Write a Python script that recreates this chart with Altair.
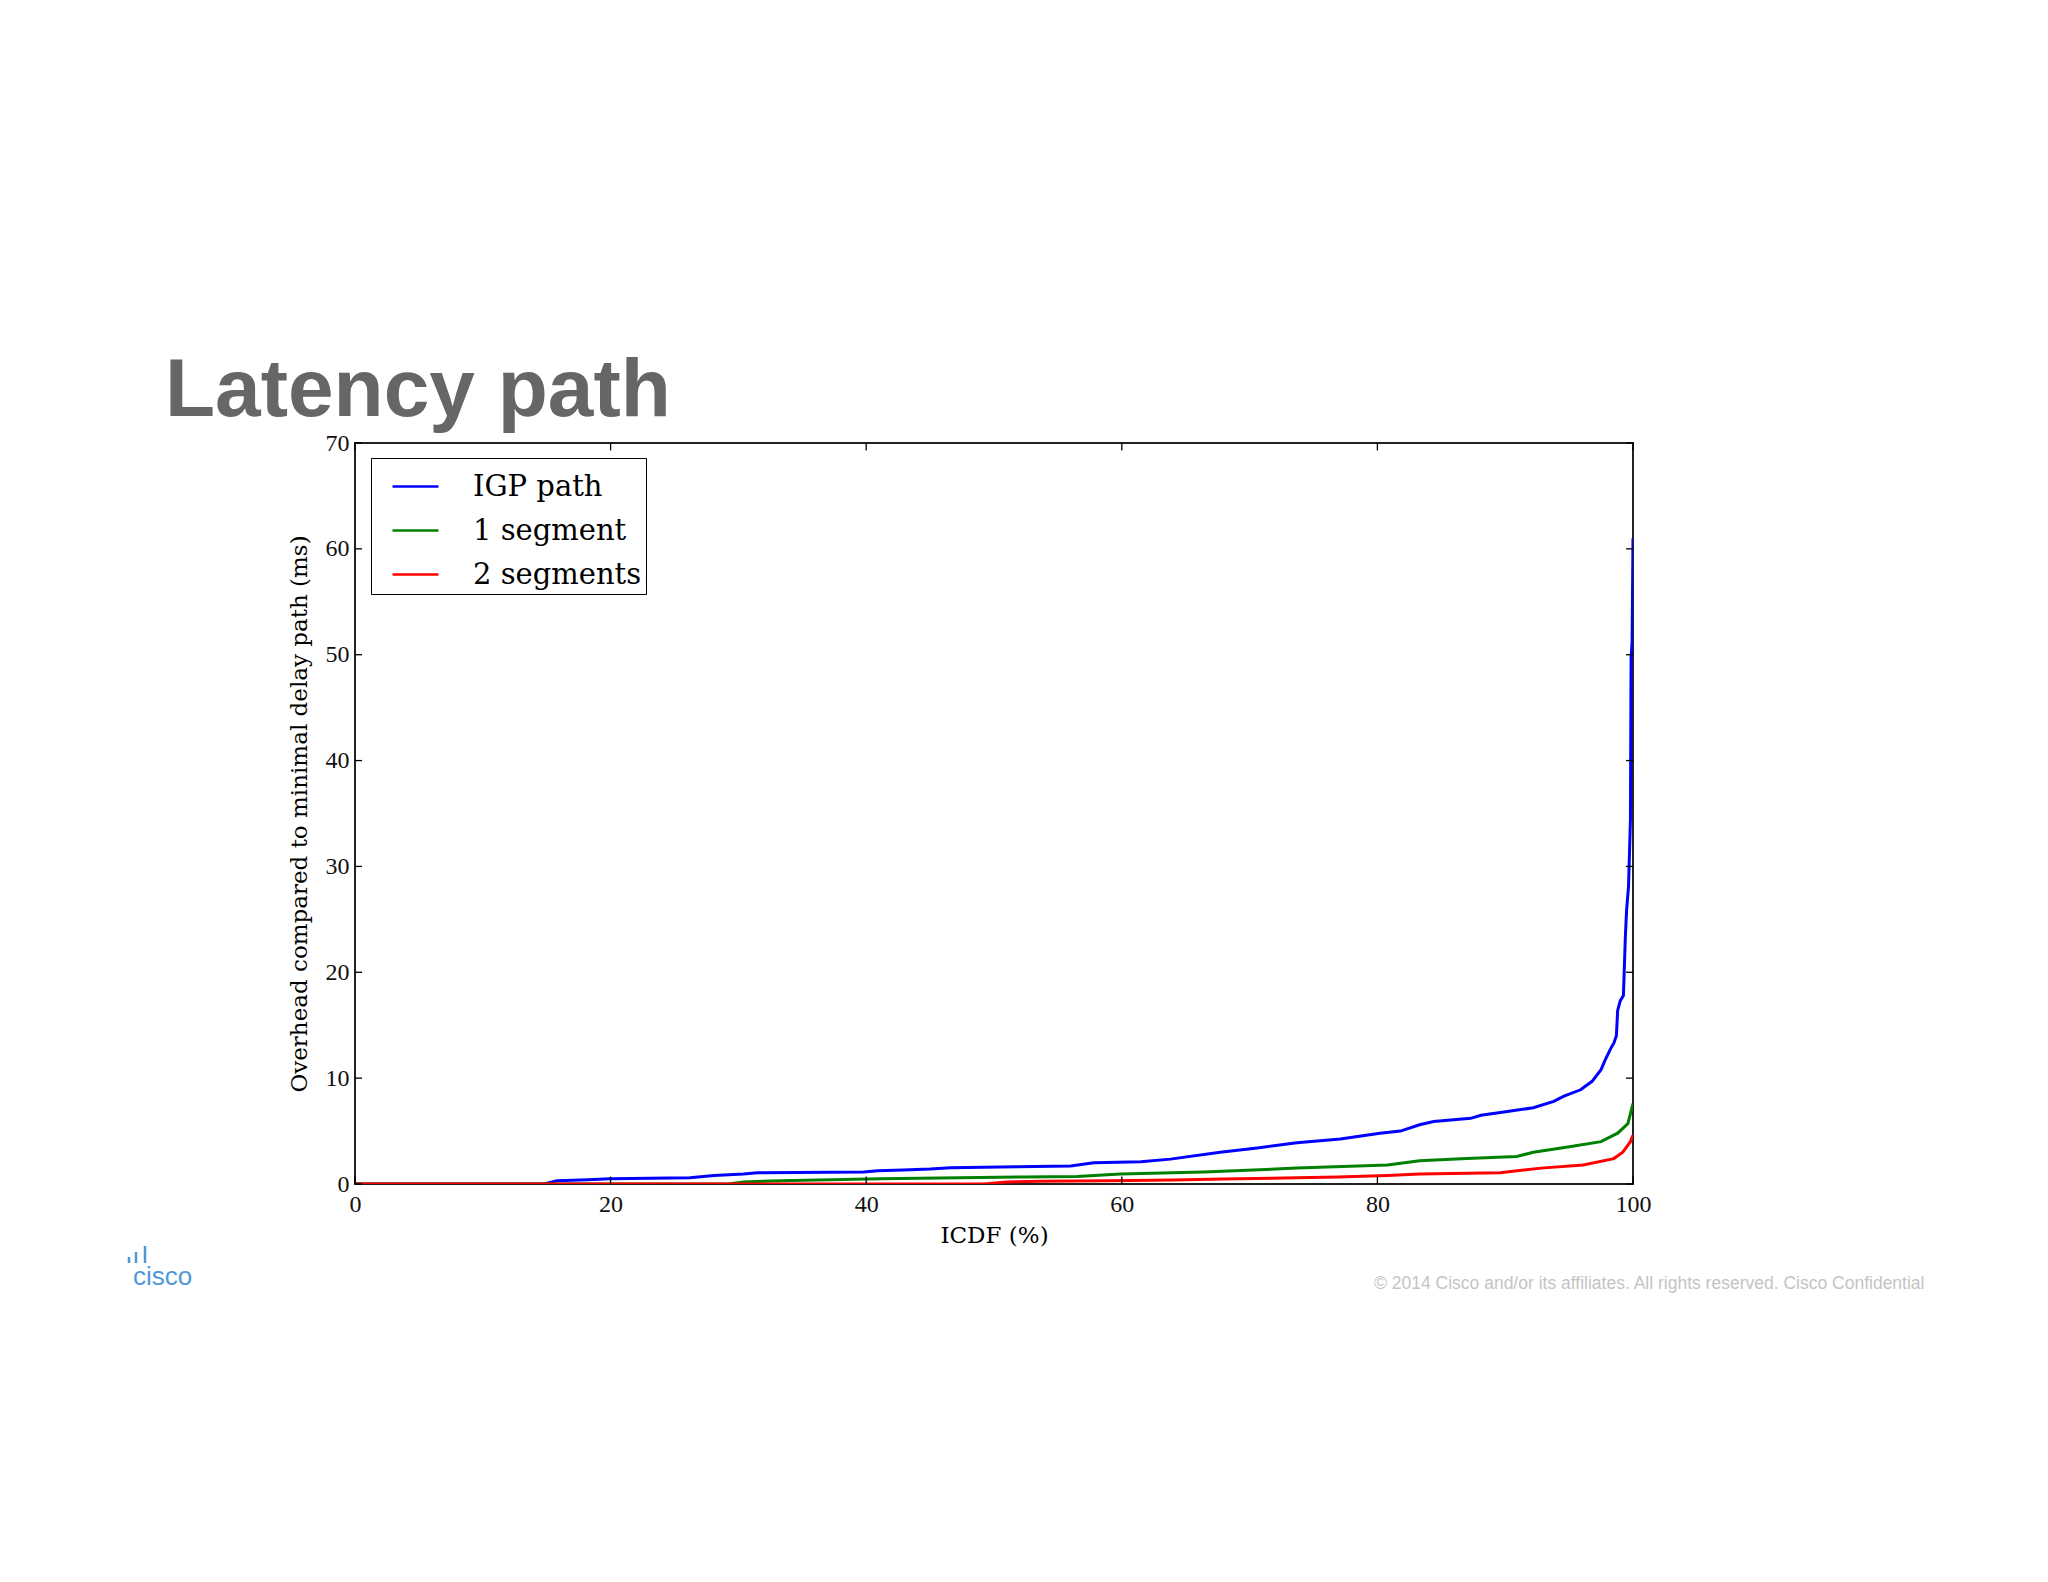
import altair as alt
import pandas as pd

# ---- data ----
series_names = ["IGP path", "1 segment", "2 segments"]
series_colors = ["#0000ff", "#008000", "#ff0000"]

igp_x = [0, 14.8, 15.8, 18.2, 20.0, 26.2, 28.1, 30.4, 31.5, 39.8, 40.9, 42.9, 45.0, 46.6, 51.8,
         56.0, 57.8, 61.5, 63.8, 67.7, 70.6, 73.7, 77.1, 80.2, 81.8, 83.3, 84.4, 87.3, 88.1, 89.9,
         92.2, 93.8, 94.6, 95.9, 96.8, 97.5, 97.8, 98.3, 98.5, 98.7, 98.8, 99.0, 99.25, 99.4, 99.5,
         99.65, 99.8, 99.85, 99.93, 100]
igp_y = [0, 0, 0.3, 0.4, 0.5, 0.6, 0.8, 0.95, 1.07, 1.13, 1.26, 1.32, 1.42, 1.54, 1.64,
         1.7, 2.0, 2.1, 2.35, 3.0, 3.4, 3.9, 4.25, 4.8, 5.0, 5.6, 5.9, 6.2, 6.5, 6.8,
         7.2, 7.8, 8.3, 8.9, 9.7, 10.8, 11.65, 12.9, 13.3, 14.0, 16.4, 17.3, 17.8, 23.3, 25.9,
         28.1, 34.4, 49.7, 51.2, 61.0]

seg1_x = [0, 29.2, 30.4, 33.3, 37.2, 41.1, 52.3, 56.5, 59.9, 66.4, 73.7, 80.8, 83.3, 87.0,
          90.9, 92.2, 94.9, 97.5, 98.8, 99.6, 100]
seg1_y = [0, 0, 0.2, 0.3, 0.4, 0.5, 0.66, 0.7, 0.94, 1.13, 1.5, 1.8, 2.2, 2.4,
          2.6, 3.0, 3.5, 4.0, 4.8, 5.7, 7.6]

seg2_x = [0, 49.2, 51.0, 53.6, 59.1, 64.0, 67.9, 76.9, 80.8, 83.3, 89.6, 92.8, 96.1, 98.5,
          99.2, 99.8, 100]
seg2_y = [0, 0, 0.2, 0.25, 0.3, 0.38, 0.47, 0.66, 0.8, 0.95, 1.07, 1.5, 1.8, 2.4,
          3.0, 4.0, 4.6]

x_ticks = [0, 20, 40, 60, 80, 100]
y_ticks = [0, 10, 20, 30, 40, 50, 60, 70]

title_text = "Latency path"
x_title = "ICDF (%)"
y_title = "Overhead compared to minimal delay path (ms)"
footer_text = "\u00a9 2014  Cisco and/or its affiliates. All rights reserved.   Cisco Confidential"
logo_text = "cisco"

# ---- build tables ----
rows = []
for name, xs, ys in zip(series_names, [igp_x, seg1_x, seg2_x], [igp_y, seg1_y, seg2_y]):
    for i, (a, b) in enumerate(zip(xs, ys)):
        rows.append({"series": name, "pct": a, "ms": b, "i": i})
df = pd.DataFrame(rows)

xs_scale = alt.Scale(domain=[0, 100], nice=False, zero=False)
ys_scale = alt.Scale(domain=[0, 70], nice=False, zero=False)

x_axis = alt.Axis(title=x_title, values=x_ticks, grid=False, domain=False, ticks=False,
                  labelFlush=False, labelOverlap=False,
                  labelFont="Liberation Serif", labelFontSize=24, labelPadding=8,
                  titleFont="DejaVu Serif", titleFontSize=23, titleFontWeight="normal",
                  titlePadding=8, labelColor="#111111", titleColor="#000000")
y_axis = alt.Axis(title=y_title, values=y_ticks, grid=False, domain=False, ticks=False,
                  labelFlush=False, labelOverlap=False,
                  labelFont="Liberation Serif", labelFontSize=24, labelPadding=6,
                  titleFont="DejaVu Serif", titleFontSize=23, titleFontWeight="normal",
                  titlePadding=14, labelColor="#111111", titleColor="#000000")

lines = alt.Chart(df).mark_line(strokeWidth=3, clip=True).encode(
    x=alt.X("pct:Q", scale=xs_scale, axis=x_axis),
    y=alt.Y("ms:Q", scale=ys_scale, axis=y_axis),
    color=alt.Color("series:N",
                    scale=alt.Scale(domain=series_names, range=series_colors),
                    title=None,
                    legend=alt.Legend(orient="none", legendX=16, legendY=15,
                                      symbolType="stroke", symbolSize=2116, symbolStrokeWidth=2.5,
                                      labelFont="DejaVu Serif", labelFontSize=29, labelColor="#000000",
                                      labelLimit=1000, labelOffset=33, symbolOffset=16, rowPadding=4,
                                      padding=4, strokeColor="#000000", fillColor="#ffffff",
                                      cornerRadius=0)),
    order="i:Q",
)

xt_df = pd.DataFrame({"pct": x_ticks})
yt_df = pd.DataFrame({"ms": y_ticks})
tick_style = dict(color="#000000", strokeWidth=1.3)

xt_bottom = alt.Chart(xt_df).mark_rule(**tick_style).encode(
    x=alt.X("pct:Q", scale=xs_scale, axis=x_axis), y=alt.datum(0), y2=alt.datum(0.7))
xt_top = alt.Chart(xt_df).mark_rule(**tick_style).encode(
    x=alt.X("pct:Q", scale=xs_scale, axis=x_axis), y=alt.datum(70), y2=alt.datum(69.3))
yt_left = alt.Chart(yt_df).mark_rule(**tick_style).encode(
    y=alt.Y("ms:Q", scale=ys_scale, axis=y_axis), x=alt.datum(0), x2=alt.datum(0.55))
yt_right = alt.Chart(yt_df).mark_rule(**tick_style).encode(
    y=alt.Y("ms:Q", scale=ys_scale, axis=y_axis), x=alt.datum(100), x2=alt.datum(99.45))

# footer and logo (slide decoration)
footer = alt.Chart(pd.DataFrame({"t": [footer_text]})).mark_text(
    align="left", baseline="alphabetic", font="Liberation Sans", fontSize=17.5, color="#c4c4c4",
    clip=False).encode(text="t:N", x=alt.value(1019), y=alt.value(846))
logo = alt.Chart(pd.DataFrame({"t": [logo_text]})).mark_text(
    align="left", baseline="alphabetic", font="Liberation Sans", fontSize=26,
    color="#4f98d6", clip=False).encode(text="t:N", x=alt.value(-222), y=alt.value(842))
logo_bars = pd.DataFrame({"bx": [-226, -219, -210], "top": [814, 809, 803], "bot": [820, 820, 820]})
bars = alt.Chart(logo_bars).mark_rule(color="#4f98d6", strokeWidth=2.5).encode(
    x=alt.X("bx:Q", scale=None), y=alt.Y("top:Q", scale=None), y2="bot:Q")

chart = alt.layer(lines, xt_bottom, xt_top, yt_left, yt_right, footer, logo, bars).properties(
    width=1278, height=741,
    padding={"left": 347, "top": 435, "right": 407, "bottom": 390},
    autosize=alt.AutoSizeParams(type="none"),
    background="#ffffff",
    title=alt.TitleParams(text=title_text, anchor="start", frame="group", font="Liberation Sans",
                          fontSize=82, fontWeight="bold", color="#666666", dx=-190, dy=84,
                          offset=17, baseline="alphabetic"),
).configure_view(stroke="#222222", strokeWidth=2)

chart.save("out.html", embed_options={"renderer": "svg", "actions": False})
